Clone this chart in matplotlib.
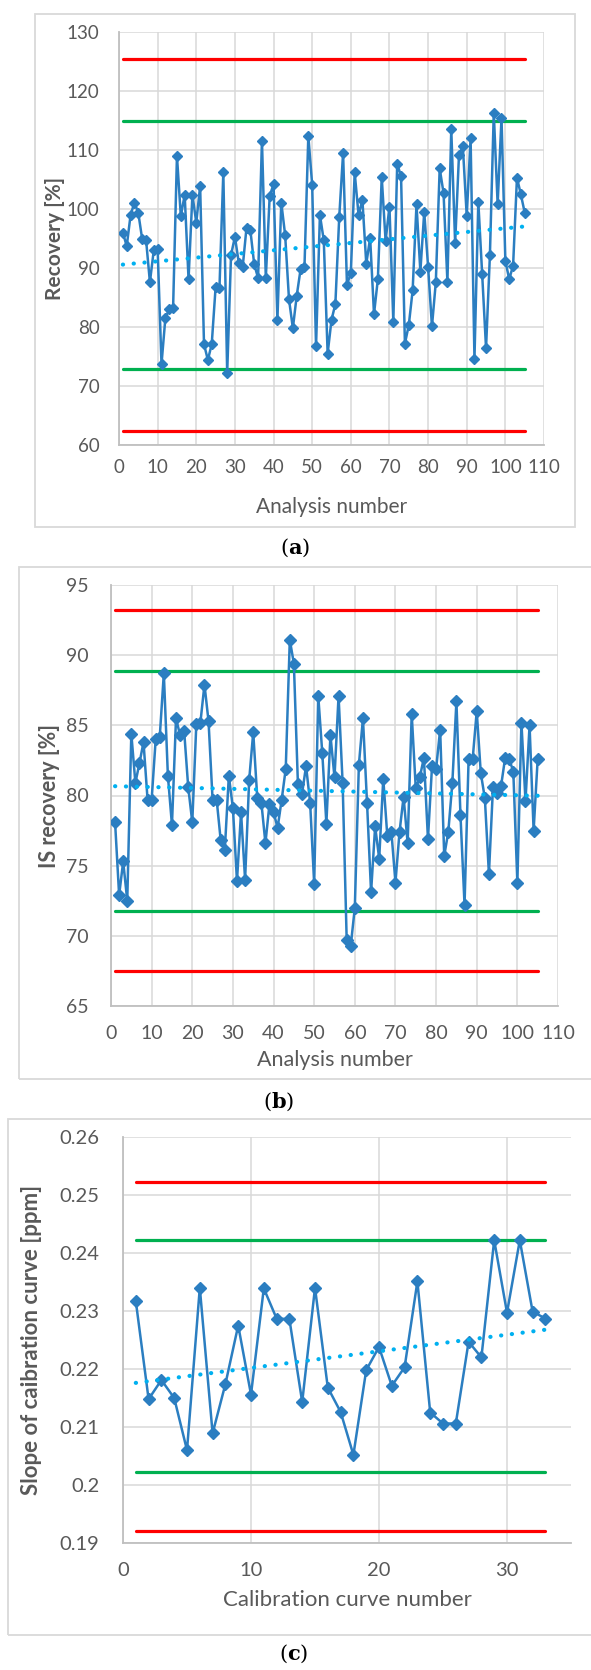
import matplotlib
matplotlib.use('Agg')
import matplotlib.pyplot as plt
from matplotlib.patches import Rectangle
import numpy as np

# (a) recovery of each analysis [%]
recovery = [96.0, 93.7, 99.0, 101.1, 99.3, 94.9, 94.8, 87.6, 93.0, 93.2,
            73.7, 81.5, 83.0, 83.2, 109.0, 98.8, 102.4, 88.1, 102.4, 97.7,
            103.9, 77.1, 74.4, 77.1, 86.7, 86.6, 106.2, 72.2, 92.2, 95.3,
            90.9, 90.1, 96.8, 96.4, 90.6, 88.3, 111.6, 88.3, 102.2, 104.2,
            81.2, 101.1, 95.6, 84.7, 79.8, 85.3, 89.8, 90.1, 112.4, 104.1,
            76.7, 99.0, 94.7, 75.5, 81.2, 83.9, 98.6, 109.5, 87.2, 89.1,
            106.2, 99.0, 101.5, 90.7, 95.1, 82.2, 88.1, 105.4, 94.6, 100.4,
            80.9, 107.6, 105.6, 77.2, 80.3, 86.2, 100.8, 89.4, 99.5, 90.2,
            80.1, 87.6, 106.9, 102.7, 87.7, 113.5, 94.2, 109.2, 110.6, 98.8,
            112.0, 74.6, 101.2, 88.9, 76.4, 92.2, 116.3, 100.8, 115.4, 91.2,
            88.1, 90.4, 105.3, 102.5, 99.4]
recovery_warn = [114.9, 72.8]
recovery_ctrl = [125.4, 62.3]

# (b) internal standard recovery [%]
is_recovery = [78.1, 72.9, 75.3, 72.5, 84.4, 80.9, 82.3, 83.8, 79.7, 79.7,
               84.0, 84.2, 88.7, 81.4, 77.9, 85.5, 84.3, 84.6, 80.6, 78.1,
               85.1, 85.2, 87.9, 85.3, 79.7, 79.7, 76.8, 76.1, 81.4, 79.1,
               73.9, 78.8, 74.0, 81.1, 84.5, 79.8, 79.5, 76.6, 79.4, 78.8,
               77.7, 79.7, 81.9, 91.1, 89.4, 80.8, 80.1, 82.1, 79.5, 73.7,
               87.1, 83.0, 78.0, 84.3, 81.3, 87.1, 80.9, 69.7, 69.3, 72.0,
               82.2, 85.5, 79.5, 73.1, 77.8, 75.5, 81.2, 77.1, 77.4, 73.8,
               77.4, 79.9, 76.6, 85.8, 80.5, 81.3, 82.7, 76.9, 82.1, 81.9,
               84.7, 75.7, 77.4, 80.9, 86.7, 78.6, 72.2, 82.6, 82.6, 86.0,
               81.6, 79.8, 74.4, 80.6, 80.2, 80.7, 82.7, 82.6, 81.7, 73.8,
               85.2, 79.6, 85.0, 77.5, 82.6]
is_warn = [88.9, 71.8]
is_ctrl = [93.2, 67.5]

# (c) slope of each calibration curve [ppm]
slope = [0.2317, 0.2148, 0.2181, 0.2150, 0.2060, 0.2340, 0.2089, 0.2174, 0.2275, 0.2156,
         0.2339, 0.2287, 0.2286, 0.2143, 0.2340, 0.2168, 0.2126, 0.2052, 0.2198, 0.2238,
         0.2171, 0.2203, 0.2351, 0.2125, 0.2106, 0.2106, 0.2247, 0.2220, 0.2422, 0.2297,
         0.2422, 0.2299, 0.2287]
slope_warn = [0.2422, 0.2022]
slope_ctrl = [0.2523, 0.1921]

W, H = 591, 1670
GRAY = '#595959'
GRID = '#D9D9D9'
BLUE = '#2B7EC1'
plt.rcParams['font.family'] = ['Lato', 'DejaVu Sans']
plt.rcParams['mathtext.fontset'] = 'dejavuserif'


def px_rect(l, r, t, b):
    return [l / W, 1 - b / H, (r - l) / W, (b - t) / H]


def frame(fig, l, r, t, b):
    fig.patches.append(Rectangle((l / W, 1 - b / H), (r - l) / W, (b - t) / H,
                                 transform=fig.transFigure, fill=False,
                                 ec=GRID, lw=1.3))


def control_panel(fig, rect, values, warn, ctrl, xlim, xticks, ylim, yticks,
                  xlabel, ylabel, fs, ms, ypad, xpad, ylab_x, xlab_y, yfmt=None):
    ax = fig.add_axes(rect)
    x = np.arange(1, len(values) + 1)
    for v in ctrl:
        ax.plot([x[0], x[-1]], [v, v], color='#FF0000', lw=2.3, solid_capstyle='round', zorder=2)
    for v in warn:
        ax.plot([x[0], x[-1]], [v, v], color='#00B050', lw=2.3, solid_capstyle='round', zorder=2)
    ax.plot(x, values, color=BLUE, lw=1.8, marker='D', ms=ms, mec=BLUE, mfc=BLUE, zorder=3)
    k, c = np.polyfit(x, values, 1)
    ax.plot(x, k * x + c, color='#00B0F0', lw=3.0, linestyle=(0, (0.05, 2.55)),
            dash_capstyle='round', zorder=4)
    ax.set_xlim(*xlim)
    ax.set_ylim(*ylim)
    ax.set_xticks(xticks)
    ax.set_yticks(yticks)
    if yfmt is not None:
        ax.set_yticklabels([yfmt(t) for t in yticks])
    ax.grid(True, color=GRID, lw=1.1, zorder=0)
    ax.set_axisbelow(True)
    for s in ['top', 'right']:
        ax.spines[s].set_visible(False)
    for s in ['left', 'bottom']:
        ax.spines[s].set_color('#BFBFBF')
        ax.spines[s].set_linewidth(1.3)
    ax.tick_params(length=0, labelsize=fs, labelcolor=GRAY)
    ax.tick_params(axis='y', pad=ypad)
    ax.tick_params(axis='x', pad=xpad)
    ax.set_xlabel(xlabel, fontsize=fs + 1.5, color=GRAY)
    ax.set_ylabel(ylabel, fontsize=fs + 1.5, color=GRAY, fontweight='bold')
    ax.yaxis.set_label_coords(ylab_x, 0.5)
    ax.xaxis.set_label_coords(0.5, xlab_y)
    return ax


def main():
    fig = plt.figure(figsize=(W / 100, H / 100), dpi=100)

    # (a)
    frame(fig, 35, 575, 14, 527)
    control_panel(fig, px_rect(119, 544, 32, 445), recovery, recovery_warn, recovery_ctrl,
                  (0, 110), np.arange(0, 111, 10), (60, 130), np.arange(60, 131, 10),
                  'Analysis number', 'Recovery [%]', 13.5, 5.5, 14, 10, -0.128, -0.125)
    fig.text(295 / W, 1 - 548 / H, r'($\mathbf{a}$)', ha='center', va='center',
             fontsize=15, family='DejaVu Serif')

    # (b)
    frame(fig, 19, 600, 567, 1079)
    control_panel(fig, px_rect(111, 558, 585, 1006), is_recovery, is_warn, is_ctrl,
                  (0, 110), np.arange(0, 111, 10), (65, 95), np.arange(65, 96, 5),
                  'Analysis number', 'IS recovery [%]', 14, 6.5, 16, 14, -0.115, -0.105)
    fig.text(279 / W, 1 - 1102 / H, r'($\mathbf{b}$)', ha='center', va='center',
             fontsize=15, family='DejaVu Serif')

    # (c)
    frame(fig, 8, 600, 1119, 1635)
    control_panel(fig, px_rect(123, 571, 1137, 1543), slope, slope_warn, slope_ctrl,
                  (0, 35), np.arange(0, 31, 10), (0.19, 0.26), np.round(np.arange(0.19, 0.2601, 0.01), 2),
                  'Calibration curve number', 'Slope of caibration curve [ppm]', 14.5, 6, 17, 14,
                  -0.18, -0.115, yfmt=lambda t: f'{t:g}')
    fig.text(294 / W, 1 - 1654 / H, r'($\mathbf{c}$)', ha='center', va='center',
             fontsize=15, family='DejaVu Serif')

    fig.savefig('out.png', dpi=100, facecolor='white')
    plt.close(fig)


if __name__ == "__main__":
    main()
